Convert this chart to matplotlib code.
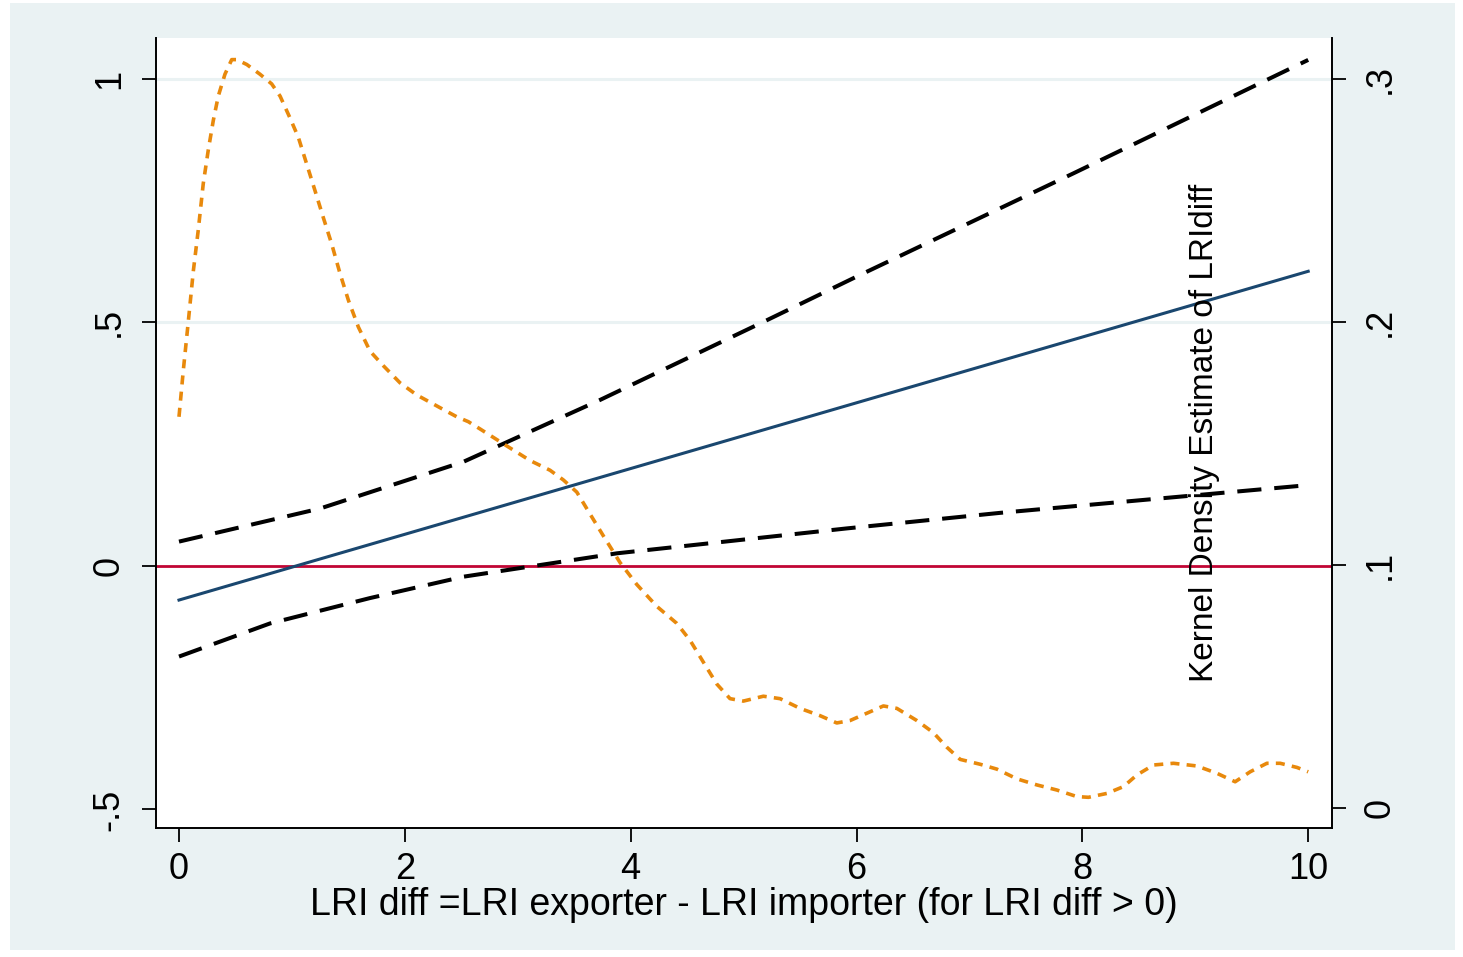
import matplotlib
matplotlib.use("Agg")
import matplotlib.pyplot as plt
from matplotlib.patches import Rectangle

plt.rcParams['font.family'] = ['Liberation Sans', 'DejaVu Sans']

# fitted linear effect and its confidence band (left axis)
fit_x = [0, 10]
fit_y = [-0.070, 0.605]

upper_x = [0, 1.25, 2.52, 3.73, 5.21, 6.0, 7.92, 10]
upper_y = [0.050, 0.118, 0.214, 0.341, 0.505, 0.594, 0.806, 1.039]

lower_x = [0, 0.806, 1.69, 2.52, 3.88, 5.91, 7.27, 10]
lower_y = [-0.186, -0.118, -0.066, -0.022, 0.026, 0.077, 0.109, 0.166]

# kernel density of LRIdiff (right axis)
kde_x = [0.00, 0.038, 0.082, 0.127, 0.171, 0.215, 0.260, 0.304, 0.348, 0.407,
         0.467, 0.511, 0.600, 0.717, 0.821, 0.895, 0.983, 1.057, 1.131, 1.205,
         1.278, 1.353, 1.426, 1.500, 1.588, 1.692, 1.810, 1.957, 2.105, 2.223,
         2.341, 2.460, 2.562, 2.666, 2.903, 3.109, 3.286, 3.404, 3.523, 3.640,
         3.758, 3.906, 4.054, 4.231, 4.408, 4.526, 4.644, 4.763, 4.880, 4.998,
         5.175, 5.323, 5.500, 5.677, 5.825, 5.943, 6.091, 6.238, 6.357, 6.534,
         6.681, 6.800, 6.918, 7.095, 7.243, 7.420, 7.597, 7.774, 7.951, 8.054,
         8.217, 8.364, 8.483, 8.630, 8.807, 9.014, 9.191, 9.353, 9.486, 9.634,
         9.752, 9.900, 10.0]
kde_y = [0.161, 0.180, 0.200, 0.221, 0.238, 0.257, 0.271, 0.283, 0.293, 0.302,
         0.308, 0.308, 0.306, 0.302, 0.298, 0.293, 0.284, 0.276, 0.265, 0.254,
         0.243, 0.232, 0.220, 0.209, 0.198, 0.188, 0.182, 0.175, 0.170, 0.167,
         0.164, 0.161, 0.159, 0.156, 0.149, 0.143, 0.139, 0.135, 0.130, 0.121,
         0.112, 0.101, 0.092, 0.083, 0.076, 0.069, 0.060, 0.051, 0.045, 0.044,
         0.046, 0.045, 0.041, 0.038, 0.035, 0.036, 0.039, 0.042, 0.041, 0.036,
         0.031, 0.025, 0.020, 0.018, 0.016, 0.012, 0.0095, 0.0074, 0.0047, 0.0044,
         0.0060, 0.0088, 0.0136, 0.0177, 0.0184, 0.0173, 0.0143, 0.0108, 0.0149, 0.0184,
         0.0184, 0.0167, 0.0149]

x_ticks = [0, 2, 4, 6, 8, 10]
left_ticks = [-0.5, 0, 0.5, 1]
left_labels = ['-.5', '0', '.5', '1']
right_ticks = [0, 0.1, 0.2, 0.3]
right_labels = ['0', '.1', '.2', '.3']

BG = '#EAF2F3'
fig = plt.figure(figsize=(14.63, 9.57), dpi=100, facecolor='white')
fig.patches.append(Rectangle((0.0068, 0.0073), 0.9877, 0.9896, transform=fig.transFigure,
                             facecolor=BG, edgecolor='none', zorder=-10))

ax = fig.add_axes([0.1066, 0.1348, 0.8038, 0.8255])
ax.set_facecolor('white')
ax2 = ax.twinx()

# grid lines like stata
for g in [0.5, 1]:
    ax.axhline(g, color=BG, lw=2.2, zorder=0)
ax.axhline(0, color='#C10534', lw=2.0, zorder=1)

ax.plot(fit_x, fit_y, color='#1A476F', lw=2.2, zorder=3)
ax.plot(upper_x, upper_y, color='black', lw=2.9, dashes=(6.0, 3.2), zorder=3)
ax.plot(lower_x, lower_y, color='black', lw=2.9, dashes=(6.0, 3.2), zorder=3)
ax2.plot(kde_x, kde_y, color='#E8890C', lw=2.6, dashes=(2.5, 2.0), zorder=3)

ax.set_xlim(-0.204, 10.21)
ax.set_ylim(-0.538, 1.084)
ax2.set_ylim(-0.00823, 0.3169)

ax.set_xticks(x_ticks)
ax.set_xticklabels([str(t) for t in x_ticks], fontsize=26)
ax.set_yticks(left_ticks)
ax.set_yticklabels(left_labels, fontsize=26, rotation=90, va='center')
ax2.set_yticks(right_ticks)
ax2.set_yticklabels(right_labels, fontsize=26, rotation=90, va='center')

ax.tick_params(axis='x', length=10, width=1.3, pad=7)
ax.tick_params(axis='y', length=10, width=1.3, pad=11)
ax2.tick_params(axis='y', length=10, width=1.3, pad=12)

for a in (ax, ax2):
    a.spines['top'].set_visible(False)
    for s in a.spines.values():
        s.set_linewidth(1.4)
ax.spines['right'].set_visible(False)
ax2.spines['left'].set_visible(False)
ax2.spines['bottom'].set_visible(False)

ax.set_xlabel('LRI diff =LRI exporter - LRI importer (for LRI diff > 0)', fontsize=27, labelpad=0)
ax2.text(0.892, 0.5, 'Kernel Density Estimate of LRIdiff', transform=ax2.transAxes,
         rotation=90, ha='center', va='center', fontsize=24, zorder=5)

fig.savefig('out.png', dpi=100, facecolor=fig.get_facecolor())
